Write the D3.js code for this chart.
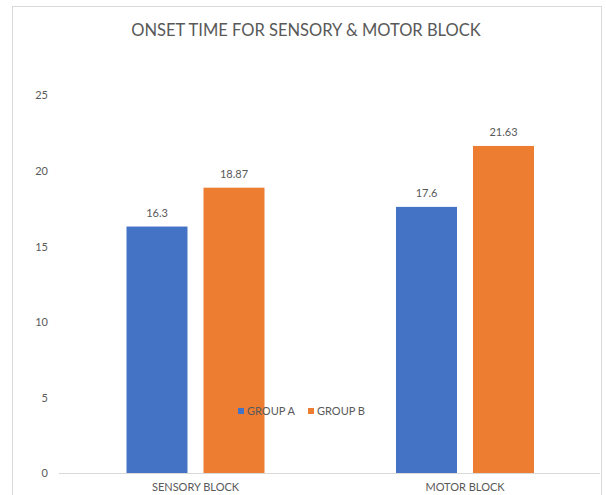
<!DOCTYPE html>
<html>
<head>
<meta charset="utf-8">
<script src="https://cdn.jsdelivr.net/npm/d3@7"></script>
<style>
  body { margin: 0; background: #fff; }
  svg text { font-family: Lato, "Open Sans", sans-serif; fill: #595959; }
</style>
</head>
<body>
<div id="chart"></div>
<script>
// chart data
const categories = ["SENSORY BLOCK", "MOTOR BLOCK"];
const seriesNames = ["GROUP A", "GROUP B"];
const groupA = [16.3, 17.6];
const groupB = [18.87, 21.63];
const yTicks = [0, 5, 10, 15, 20, 25];
const colors = ["#4472c4", "#ed7d31"];

const W = 606, H = 495;

let svg = d3.select("#chart")
  .append("svg")
    .attr("width", W)
    .attr("height", H);

// chart frame
svg.append("rect")
  .attr("x", 12.5).attr("y", 6.5)
  .attr("width", 589).attr("height", 500)
  .attr("fill", "#fff")
  .attr("stroke", "#d9d9d9");

svg.append("text")
  .attr("x", 306).attr("y", 36)
  .attr("text-anchor", "middle")
  .style("font-size", "16.5px")
  .text("ONSET TIME FOR SENSORY & MOTOR BLOCK");

let x = d3.scaleBand()
  .domain(categories)
  .range([60.75, 599.75]);

let y = d3.scaleLinear()
  .domain([0, 25])
  .range([473, 95]);

let rows = categories.map((c, i) => ({cat: c, vals: [groupA[i], groupB[i]]}));

// sub band for the two groups
let xs = d3.scaleBand()
  .domain(seriesNames)
  .range([0, x.bandwidth()])
  .paddingInner(0.208)
  .paddingOuter(0.854);

// y axis (labels only)
let yAxis = svg.append("g")
  .attr("transform", "translate(48,0)")
  .call(d3.axisLeft(y).tickValues(yTicks).tickSize(0).tickPadding(0));
yAxis.select(".domain").remove();
yAxis.selectAll("text")
  .style("font-size", "11px")
  .attr("fill", "#595959")
  .attr("dy", "0.35em");

// bars
let groups = svg.selectAll(".cat")
  .data(rows)
  .join("g")
  .attr("class", "cat")
  .attr("transform", d => "translate(" + x(d.cat) + ",0)");

groups.selectAll("rect")
  .data(d => d.vals.map((v, j) => ({name: seriesNames[j], v: v, j: j})))
  .join("rect")
  .attr("x", d => xs(d.name))
  .attr("y", d => y(d.v))
  .attr("width", xs.bandwidth())
  .attr("height", d => y(0) - y(d.v))
  .attr("fill", d => colors[d.j]);

groups.selectAll(".lbl")
  .data(d => d.vals.map((v, j) => ({name: seriesNames[j], v: v})))
  .join("text")
  .attr("class", "lbl")
  .attr("x", d => xs(d.name) + xs.bandwidth() / 2)
  .attr("y", d => y(d.v) - 10)
  .attr("text-anchor", "middle")
  .style("font-size", "11px")
  .text(d => d.v);

// baseline
svg.append("line")
  .attr("x1", 59).attr("x2", 600)
  .attr("y1", y(0) + 0.5).attr("y2", y(0) + 0.5)
  .attr("stroke", "#d9d9d9");

// x axis labels
let xAxis = svg.append("g")
  .attr("transform", "translate(0," + y(0) + ")")
  .call(d3.axisBottom(x).tickSize(0).tickPadding(10));
xAxis.select(".domain").remove();
xAxis.selectAll("text")
  .style("font-size", "11px")
  .attr("fill", "#595959");

// legend
let legend = svg.append("g").attr("transform", "translate(238,411)");
let li = legend.selectAll("g")
  .data(seriesNames)
  .join("g")
  .attr("transform", (d, i) => "translate(" + (i * 70) + ",0)");
li.append("rect")
  .attr("x", 0).attr("y", -3)
  .attr("width", 6).attr("height", 6)
  .attr("fill", (d, i) => colors[i]);
li.append("text")
  .attr("x", 9).attr("y", 0)
  .attr("dy", "0.35em")
  .style("font-size", "11px")
  .text(d => d);
</script>
</body>
</html>
